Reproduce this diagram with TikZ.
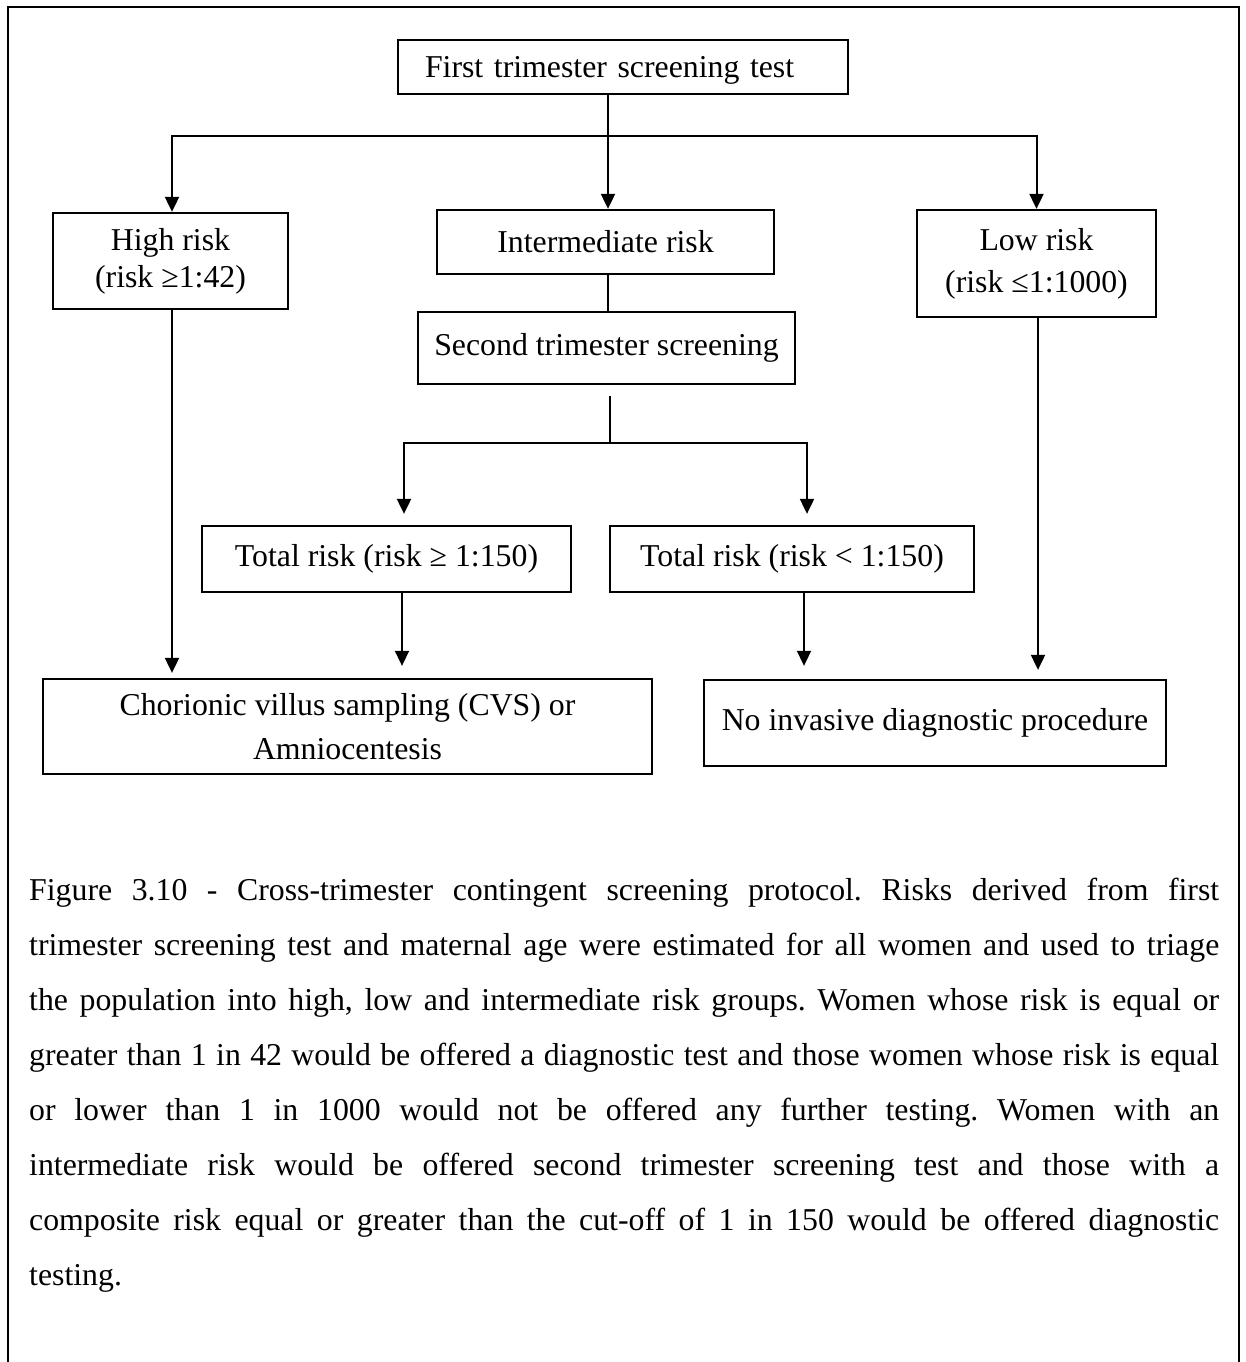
\documentclass[tikz,border=0pt]{standalone}
\usepackage{fontspec}
\setmainfont{Liberation Serif}
\usetikzlibrary{arrows.meta}
\frenchspacing
\begin{document}
\begin{tikzpicture}[x=1pt,y=-1pt,
  box/.style={draw, line width=2.3pt, inner sep=0pt, align=center, font=\fontsize{31.8}{37}\selectfont},
  arr/.style={line width=2pt, -{Triangle[length=15pt,width=14pt]}},
  ln/.style={line width=2pt},
  outerframe/.style={line width=2.5pt},
  captext/.style={anchor=base west, inner sep=0pt, font=\fontsize{31.8}{55}\selectfont}]
\useasboundingbox (0,0) rectangle (1246,1362);
\fill[white] (0,0) rectangle (1246,1362);
\draw[outerframe] (8,1362) -- (8,7) -- (1239,7) -- (1239,1362);

% boxes
\node[box, minimum width=450pt, minimum height=54pt, text width=396pt, align=left, text depth=0pt] (top) at (623,67) {First trimester screening test};
\node[box, minimum width=235pt, minimum height=96pt] (high) at (170.5,261) {High risk\\(risk ≥1:42)};
\node[box, minimum width=337pt, minimum height=64pt] (inter) at (605.5,242) {Intermediate risk};
\node[box, minimum width=239pt, minimum height=107pt, font=\fontsize{31.8}{42}\selectfont] (low) at (1036.5,263.5) {Low risk\\(risk ≤1:1000)};
\node[box, minimum width=377pt, minimum height=72pt] (second) at (606.5,348) {Second trimester screening};
\node[box, minimum width=369pt, minimum height=66pt] (tge) at (386.5,559) {Total risk (risk ≥ 1:150)};
\node[box, minimum width=364pt, minimum height=66pt] (tlt) at (792,559) {Total risk (risk < 1:150)};
\node[box, minimum width=609pt, minimum height=95pt, font=\fontsize{31.8}{44}\selectfont] (cvs) at (347.5,726.5) {Chorionic villus sampling (CVS) or\\Amniocentesis};
\node[box, minimum width=462pt, minimum height=86pt] (noinv) at (935,723) {No invasive diagnostic procedure};

% connectors
\coordinate (j1) at (608,136);
\draw[ln] (top.south -| j1) -- (j1);
\draw[arr] (j1) -| ([xshift=1.5pt]high.north);
\draw[arr] (j1) -| (low.north);
\draw[arr] (j1) -- (inter.north -| j1);
\draw[ln] (inter.south -| j1) -- (second.north -| j1);
\coordinate (j2) at (610,443);
\draw[line width=1.6pt, shorten <=11pt] (second.south -| j2) -- (j2);
\draw[arr, shorten >=11pt] (j2) -| ([xshift=17.5pt]tge.north);
\draw[arr, shorten >=11pt] (j2) -| ([xshift=15pt]tlt.north);
\draw[arr, line width=1.6pt, shorten >=12pt] ([xshift=15.5pt]tge.south) -- ([xshift=15.5pt]tge.south |- cvs.north);
\draw[arr, line width=1.6pt, shorten >=13pt] ([xshift=12pt]tlt.south) -- ([xshift=12pt]tlt.south |- noinv.north);
\draw[arr, shorten >=5pt] ([xshift=1.5pt]high.south) -- ([xshift=1.5pt]high.south |- cvs.north);
\draw[arr, shorten >=9pt] ([xshift=1.5pt]low.south) -- ([xshift=1.5pt]low.south |- noinv.north);

% caption
\node[captext] (c1) at (29,900) {\makebox[1190pt][s]{Figure 3.10 - Cross-trimester contingent screening protocol. Risks derived from first}};
\node[captext] (c2) at (29,955) {\makebox[1190pt][s]{trimester screening test and maternal age were estimated for all women and used to triage}};
\node[captext] (c3) at (29,1010) {\makebox[1190pt][s]{the population into high, low and intermediate risk groups. Women whose risk is equal or}};
\node[captext] (c4) at (29,1065) {\makebox[1190pt][s]{greater than 1 in 42 would be offered a diagnostic test and those women whose risk is equal}};
\node[captext] (c5) at (29,1120) {\makebox[1190pt][s]{or lower than 1 in 1000 would not be offered any further testing. Women with an}};
\node[captext] (c6) at (29,1175) {\makebox[1190pt][s]{intermediate risk would be offered second trimester screening test and those with a}};
\node[captext] (c7) at (29,1230) {\makebox[1190pt][s]{composite risk equal or greater than the cut-off of 1 in 150 would be offered diagnostic}};
\node[captext] (c8) at (29,1285) {testing.};
\end{tikzpicture}
\end{document}
